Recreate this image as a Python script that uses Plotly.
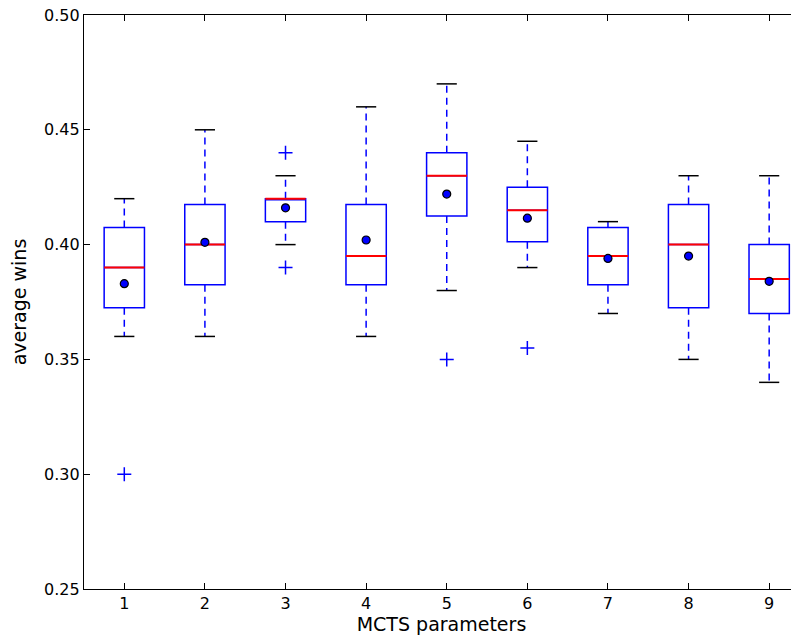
import plotly.graph_objects as go

params = [1, 2, 3, 4, 5, 6, 7, 8, 9]
whisker_low = [0.36, 0.36, 0.40, 0.36, 0.38, 0.39, 0.37, 0.35, 0.34]
q1 = [0.3725, 0.3825, 0.41, 0.3825, 0.4125, 0.4012, 0.3825, 0.3725, 0.37]
median = [0.39, 0.40, 0.42, 0.395, 0.43, 0.415, 0.395, 0.40, 0.385]
q3 = [0.4075, 0.4175, 0.42, 0.4175, 0.44, 0.425, 0.4075, 0.4175, 0.40]
whisker_high = [0.42, 0.45, 0.43, 0.46, 0.47, 0.445, 0.41, 0.43, 0.43]
mean = [0.383, 0.401, 0.416, 0.402, 0.422, 0.4115, 0.394, 0.395, 0.384]
outlier_x = [1, 3, 3, 5, 6]
outlier_y = [0.30, 0.44, 0.39, 0.35, 0.355]

box_w = 0.5
cap_w = 0.25

fig = go.Figure()

fig.add_trace(go.Box(
    x=params, q1=q1, median=median, q3=q3,
    lowerfence=q1, upperfence=q3,
    width=box_w, whiskerwidth=0, boxpoints=False,
    line=dict(color="#0000ff", width=1.5), fillcolor="rgba(255,255,255,0)",
    showlegend=False, hoverinfo="skip",
))

# whiskers (dashed blue)
wx, wy = [], []
for p, a, b, c, d in zip(params, whisker_low, q1, q3, whisker_high):
    wx += [p, p, None, p, p, None]
    wy += [c, d, None, b, a, None]
fig.add_trace(go.Scatter(x=wx, y=wy, mode="lines",
                         line=dict(color="#0000ff", width=1.5, dash="7px,5px"),
                         showlegend=False, hoverinfo="skip"))

# caps (black)
cx, cy = [], []
for p, a, d in zip(params, whisker_low, whisker_high):
    cx += [p - cap_w / 2, p + cap_w / 2, None, p - cap_w / 2, p + cap_w / 2, None]
    cy += [d, d, None, a, a, None]
fig.add_trace(go.Scatter(x=cx, y=cy, mode="lines",
                         line=dict(color="black", width=1.5),
                         showlegend=False, hoverinfo="skip"))

# medians (red)
mx, my = [], []
for p, m in zip(params, median):
    mx += [p - box_w / 2, p + box_w / 2, None]
    my += [m, m, None]
fig.add_trace(go.Scatter(x=mx, y=my, mode="lines",
                         line=dict(color="#ff0000", width=2),
                         showlegend=False, hoverinfo="skip"))

# means
fig.add_trace(go.Scatter(x=params, y=mean, mode="markers",
                         marker=dict(symbol="circle", size=8, color="#0000ff",
                                     line=dict(color="black", width=1.2)),
                         showlegend=False, hoverinfo="skip"))

# outliers
fig.add_trace(go.Scatter(x=outlier_x, y=outlier_y, mode="markers",
                         marker=dict(symbol="cross-thin", size=10,
                                     line=dict(color="#0000ff", width=1.5)),
                         showlegend=False, hoverinfo="skip"))

fig.update_layout(
    width=791, height=629,
    margin=dict(l=76, r=0, t=7, b=48, autoexpand=False),
    plot_bgcolor="white", paper_bgcolor="white",
    font=dict(family="DejaVu Sans", size=16, color="black"),
    xaxis=dict(
        range=[0.5, 9.37], tickvals=params, ticktext=[str(p) for p in params],
        ticks="inside", ticklen=6, tickcolor="black", tickwidth=1,
        showline=True, linecolor="black", linewidth=1.2, mirror="allticks",
        showgrid=False, zeroline=False, automargin=False,
        title=dict(text="MCTS parameters", standoff=0),
    ),
    yaxis=dict(
        range=[0.25, 0.50], tickvals=[0.25, 0.30, 0.35, 0.40, 0.45, 0.50],
        tickformat=".2f", ticklabeloverflow="allow",
        ticks="inside", ticklen=6, tickcolor="black", tickwidth=1,
        showline=True, linecolor="black", linewidth=1.2, mirror=False,
        showgrid=False, zeroline=False, automargin=False,
        title=dict(text="average wins", standoff=12),
    ),
)

fig.write_html("out.html")
